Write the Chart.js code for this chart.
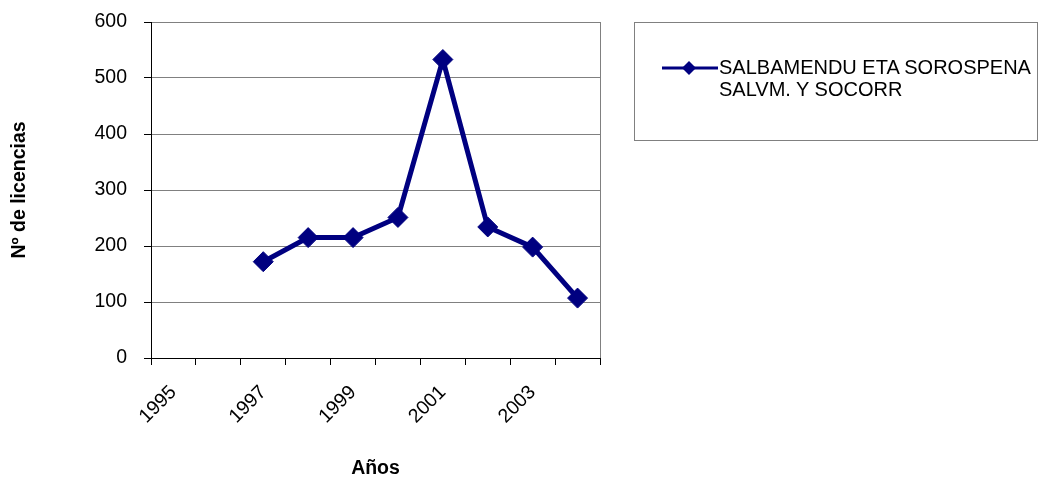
<!DOCTYPE html>
<html>
<head>
<meta charset="utf-8">
<script src="https://cdn.jsdelivr.net/npm/chart.js@4.4.0/dist/chart.umd.min.js"></script>
<style>
  html, body { margin: 0; padding: 0; background: #fff; }
  #wrap { position: relative; width: 1040px; height: 477px; }
  #grafico { position: absolute; left: 0; top: 0; }
  #leyenda {
    position: absolute; left: 634px; top: 22px; width: 404px; height: 119px;
    border: 1px solid #808080; box-sizing: border-box;
  }
  #leyenda svg { position: absolute; left: 27px; top: 34px; }
  #leyenda .txt {
    position: absolute; left: 84px; top: 33px;
    font: 20px "Liberation Sans", Arial, sans-serif; line-height: 22px; color: #000;
  }
</style>
</head>
<body>
<div id="wrap">
  <canvas id="grafico" width="1040" height="477"></canvas>
  <div id="leyenda">
    <svg width="56" height="22">
      <line x1="0" y1="11" x2="56" y2="11" stroke="#000080" stroke-width="3"/>
      <polygon points="27,4 34,11 27,18 20,11" fill="#000080"/>
    </svg>
    <div class="txt">SALBAMENDU ETA SOROSPENA<br>SALVM. Y SOCORR</div>
  </div>
</div>
<script>
const anos = ['1995', '1996', '1997', '1998', '1999', '2000', '2001', '2002', '2003', '2004'];
const licencias = [null, null, 172, 215, 215, 251, 533, 234, 198, 107];
const serie = 'SALBAMENDU ETA SOROSPENA SALVM. Y SOCORR';
const marino = '#000080';
const fuente = '"Liberation Sans", Arial, sans-serif';

const ctx = document.getElementById('grafico').getContext('2d');

new Chart(ctx, {
  type: 'line',
  data: {
    labels: anos,
    datasets: [
      {
        label: serie,
        data: licencias,
        borderColor: marino,
        backgroundColor: marino,
        borderWidth: 5,
        tension: 0,
        pointStyle: 'rectRot',
        pointRadius: 10,
        pointBackgroundColor: marino,
        pointBorderColor: marino,
        pointBorderWidth: 1,
      },
    ],
  },
  options: {
    responsive: false,
    animation: false,
    layout: { padding: { left: 0, top: 22, right: 440, bottom: 0 } },
    scales: {
      x: {
        offset: true,
        afterFit: (scale) => { scale.height = 119; },
        grid: {
          offset: true,
          drawOnChartArea: true,
          color: (c) => (c.type === 'tick' ? 'rgba(0,0,0,0)' : '#808080'),
          tickColor: '#000',
          tickLength: 7,
        },
        border: { color: '#000', width: 1 },
        ticks: {
          autoSkip: false,
          minRotation: 45,
          maxRotation: 45,
          padding: 16,
          color: '#000',
          font: { family: fuente, size: 19.5 },
          callback: (v, i) => (i % 2 === 0 ? anos[i] : ''),
        },
        title: {
          display: true,
          text: 'Años',
          color: '#000',
          padding: { top: 0, bottom: -3 },
          font: { family: fuente, size: 19.5, weight: 'bold' },
        },
      },
      y: {
        min: 0,
        max: 600,
        afterFit: (scale) => {
          scale.width = 151;
          scale.paddingTop = 0;
          scale.paddingBottom = 0;
        },
        grid: { color: '#808080', tickColor: '#000', tickLength: 7 },
        border: { color: '#000', width: 1 },
        ticks: {
          stepSize: 100,
          padding: 17,
          color: '#000',
          font: { family: fuente, size: 19.5 },
        },
        title: {
          display: true,
          text: 'Nº de licencias',
          color: '#000',
          padding: { top: 8, bottom: 0 },
          font: { family: fuente, size: 19.5, weight: 'bold' },
        },
      },
    },
    plugins: {
      legend: { display: false },
      tooltip: { enabled: false },
    },
  },
});
</script>
</body>
</html>
